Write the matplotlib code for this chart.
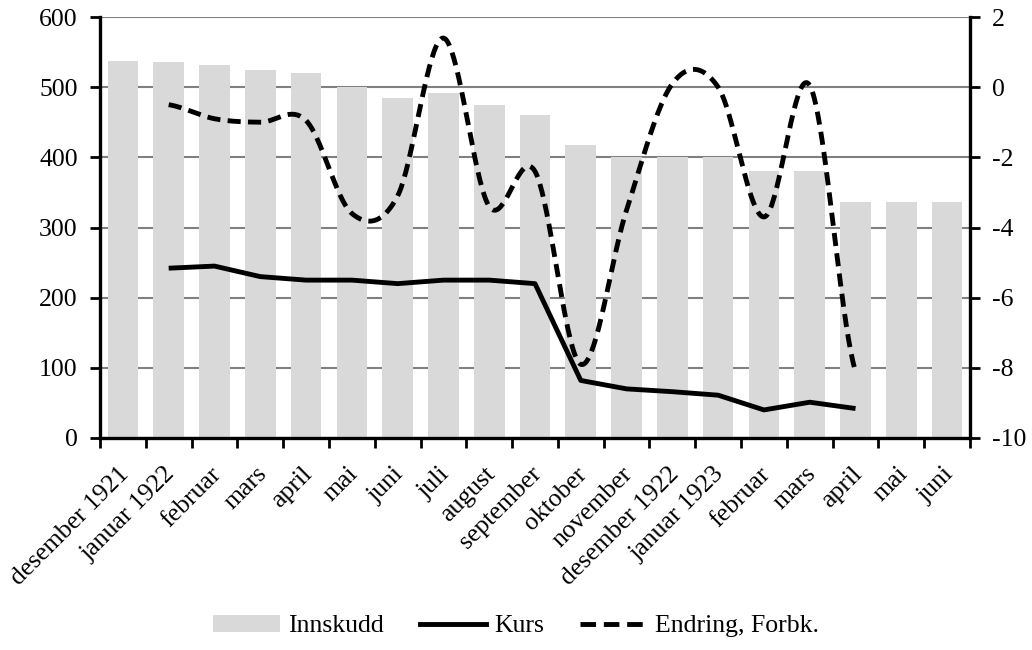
import numpy as np
import matplotlib
matplotlib.use("Agg")
import matplotlib.pyplot as plt
from matplotlib.patches import Patch
from matplotlib.lines import Line2D
from matplotlib.transforms import ScaledTranslation

categories = ["desember 1921", "januar 1922", "februar", "mars", "april", "mai", "juni",
              "juli", "august", "september", "oktober", "november", "desember 1922",
              "januar 1923", "februar", "mars", "april", "mai", "juni"]
innskudd = [538, 536, 531, 525, 520, 500, 485, 492, 474, 460, 418, 401, 401, 401,
            380, 380, 336, 336, 336]
kurs = [None, 242, 245, 230, 225, 225, 220, 225, 225, 220, 82, 70, 66, 61, 40, 51, 42, None, None]
endring = [None, -0.5, -0.9, -1.0, -0.95, -3.6, -3.1, 1.4, -3.4, -2.4, -7.9, -3.5, 0.1,
           0.0, -3.7, 0.05, -8.1, None, None]

plt.rcParams['font.family'] = ['Liberation Serif', 'DejaVu Serif']
plt.rcParams['axes.unicode_minus'] = False

FS = 18.5
LW = 3.5
fig = plt.figure(figsize=(10.32, 6.5), dpi=100)
ax = fig.add_axes([100/1032, (650-438)/650, 870/1032, 421/650])
ax2 = ax.twinx()

x = np.arange(len(categories))
ax.bar(x, innskudd, width=0.67, color='#d9d9d9', zorder=2)
ax.set_xlim(-0.5, len(categories) - 0.5)
ax.set_ylim(0, 600)
ax.set_yticks(np.arange(0, 601, 100))
ax.grid(axis='y', color='#808080', linewidth=1.5, zorder=1)
ax.set_axisbelow(True)

kx = [i for i, v in enumerate(kurs) if v is not None]
ky = [v for v in kurs if v is not None]
ax.plot(kx, ky, color='black', linewidth=LW, zorder=4, solid_capstyle='butt')

# Smoothed (Catmull-Rom / Bezier) line like spreadsheet smoothing
ex = np.array([i for i, v in enumerate(endring) if v is not None], dtype=float)
ey = np.array([v for v in endring if v is not None], dtype=float)
px = np.concatenate([[2*ex[0]-ex[1]], ex, [2*ex[-1]-ex[-2]]])
py = np.concatenate([[ey[0]], ey, [ey[-1]]])
cx, cy = [], []
t = np.linspace(0, 1, 40)
for i in range(1, len(px) - 2):
    p0, p1, p2, p3 = (np.array([px[j], py[j]]) for j in (i-1, i, i+1, i+2))
    c1 = p1 + (p2 - p0) / 6
    c2 = p2 - (p3 - p1) / 6
    b = ((1-t)**3)[:, None]*p1 + (3*(1-t)**2*t)[:, None]*c1 + (3*(1-t)*t**2)[:, None]*c2 + (t**3)[:, None]*p2
    cx.extend(b[:, 0]); cy.extend(b[:, 1])
ax2.plot(cx, cy, color='black', linewidth=LW, linestyle=(0, (2.7, 1.5)), zorder=5)
ax2.set_ylim(-10, 2)
ax2.set_yticks(np.arange(-10, 3, 2))
ax2.set_zorder(ax.get_zorder() + 1)
ax2.patch.set_visible(False)

ax.set_xticks(x)
ax.set_xticklabels(categories, rotation=45, ha='right', rotation_mode='anchor', fontsize=FS)
ax.set_xticks(np.arange(-0.5, len(categories), 1), minor=True)
ax.tick_params(axis='x', which='major', length=0, pad=18)
ax.tick_params(axis='x', which='minor', length=7, width=2, direction='out')
ax.tick_params(axis='y', labelsize=FS, length=7, width=2, direction='out', pad=9)
ax2.tick_params(axis='y', labelsize=FS, length=7, width=2, direction='out', pad=9)
shift = ScaledTranslation(-3.5/72, 0, fig.dpi_scale_trans)
for lab in ax.get_xticklabels():
    lab.set_transform(lab.get_transform() + shift)

for a in (ax, ax2):
    a.spines['top'].set_visible(False)
    for s in ('left', 'right', 'bottom'):
        a.spines[s].set_linewidth(2.4)
ax.spines['right'].set_visible(False)
ax2.spines['left'].set_visible(False)
ax2.spines['bottom'].set_visible(False)

handles = [Patch(facecolor='#d9d9d9', edgecolor='none'),
           Line2D([], [], color='black', linewidth=LW),
           Line2D([], [], color='black', linewidth=LW, linestyle=(0, (3.2, 1.6)))]
fig.legend(handles, ['Innskudd', 'Kurs', 'Endring, Forbk.'], loc='center',
           bbox_to_anchor=(0.5, 1 - 626/650), ncol=3, frameon=False, fontsize=FS,
           handlelength=2.6, handleheight=0.7, handletextpad=0.3, columnspacing=1.4)

fig.savefig('out.png', dpi=100)
